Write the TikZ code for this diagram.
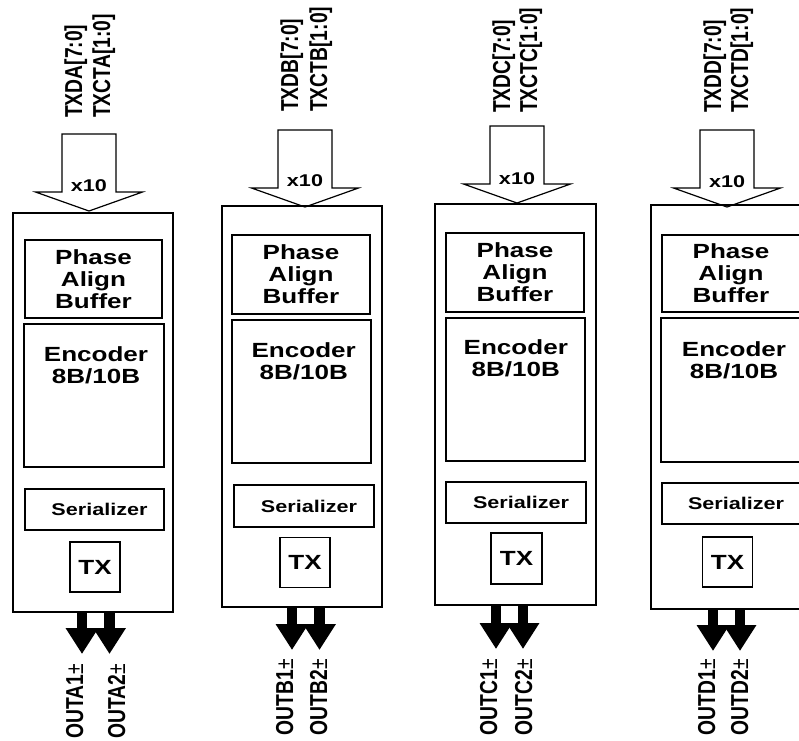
\documentclass[tikz,border=0pt]{standalone}
\usepackage{fontspec}
\setmainfont{Liberation Sans}
\newfontfamily\widesf[FakeStretch=1.27]{Liberation Sans}
\newfontfamily\tallsf[FakeStretch=0.787]{Liberation Sans}
\usetikzlibrary{arrows.meta}

\begin{document}
\begin{tikzpicture}[x=1pt,y=-1pt,line join=miter,
  chan/.style={draw,line width=2.6pt,minimum width=160pt,inner sep=0pt},
  unit/.style={draw,line width=2pt,inner sep=0pt,align=center,font=\widesf\bfseries\fontsize{20.5}{22}\selectfont},
  enctxt/.style={inner sep=0pt,anchor=north,align=center,font=\widesf\bfseries\fontsize{20.5}{22}\selectfont},
  sertxt/.style={font=\widesf\bfseries\fontsize{17}{19}\selectfont},
  txbox/.style={draw,line width=1.3pt,inner sep=0pt,minimum size=50pt,font=\widesf\bfseries\fontsize{20.5}{22}\selectfont},
  busin/.style={draw,line width=1.2pt},
  xten/.style={inner sep=0pt,anchor=base,font=\widesf\bfseries\fontsize{17}{19}\selectfont},
  sig/.style={inner sep=0pt,rotate=90,anchor=base west,font=\tallsf\bfseries\fontsize{24.5}{26}\selectfont},
  osig/.style={inner sep=0pt,rotate=90,anchor=base east,font=\tallsf\bfseries\fontsize{24.5}{26}\selectfont},
  outarr/.style={line width=10.5pt,-{Triangle[width=31pt,length=26pt]}}]
\clip (0,0) rectangle (799,740);

% channel A
\coordinate (tA) at (89,211);
\draw[busin] (tA) -- ++(53.5,-19) -- ++(-26.5,0) -- ++(0,-58) -- ++(-54,0) -- ++(0,58) -- ++(-26.5,0) -- cycle;
\node[xten] (xA) at (89,191) {x10};
\node[sig] (dA) at (82,118) {TXDA[7:0]};
\node[sig] (cA) at (110,118) {TXCTA[1:0]};
\node[chan,minimum height=399pt] (chA) at (93,412.5) {};
\node[unit,minimum width=137pt,minimum height=78pt] (pabA) at (93.5,279) {Phase\\Align\\Buffer};
\node[unit,minimum width=140pt,minimum height=143pt] (encA) at (94,395.5) {};
\node[enctxt] (encAt) at (96,346) {Encoder\\8B/10B};
\node[unit,sertxt,minimum width=139pt,minimum height=41pt] (serA) at (94.5,509.5) {\hspace*{10pt}Serializer};
\node[txbox] (txA) at (95,567) {TX};
\coordinate (oA1) at (82,654);
\coordinate (oA2) at (109.5,654);
\draw[outarr] (chA.south -| oA1) -- (oA1);
\draw[outarr] (chA.south -| oA2) -- (oA2);
\node[osig] (qA1) at (83,664) {OUTA1{\mdseries ±}};
\node[osig] (qA2) at (125,664) {OUTA2{\mdseries ±}};

% channel B
\coordinate (tB) at (305,207);
\draw[busin] (tB) -- ++(53.5,-19) -- ++(-26.5,0) -- ++(0,-58) -- ++(-54,0) -- ++(0,58) -- ++(-26.5,0) -- cycle;
\node[xten] (xB) at (305,186) {x10};
\node[sig] (dB) at (298,112) {TXDB[7:0]};
\node[sig] (cB) at (327,112) {TXCTB[1:0]};
\node[chan,minimum height=401pt] (chB) at (302,406.5) {};
\node[unit,minimum width=138pt,minimum height=79pt] (pabB) at (301,274.5) {Phase\\Align\\Buffer};
\node[unit,minimum width=139pt,minimum height=143pt] (encB) at (301.5,391.5) {};
\node[enctxt] (encBt) at (303.7,342) {Encoder\\8B/10B};
\node[unit,sertxt,minimum width=140pt,minimum height=42pt] (serB) at (304,506) {\hspace*{10pt}Serializer};
\node[txbox] (txB) at (305,562.5) {TX};
\coordinate (oB1) at (292,650);
\coordinate (oB2) at (319.5,650);
\draw[outarr] (chB.south -| oB1) -- (oB1);
\draw[outarr] (chB.south -| oB2) -- (oB2);
\node[osig] (qB1) at (293,659) {OUTB1{\mdseries ±}};
\node[osig] (qB2) at (327,659) {OUTB2{\mdseries ±}};

% channel C
\coordinate (tC) at (517,203);
\draw[busin] (tC) -- ++(53.5,-19) -- ++(-26.5,0) -- ++(0,-58) -- ++(-54,0) -- ++(0,58) -- ++(-26.5,0) -- cycle;
\node[xten] (xC) at (517,184) {x10};
\node[sig] (dC) at (510,113) {TXDC[7:0]};
\node[sig] (cC) at (537,113) {TXCTC[1:0]};
\node[chan,minimum width=161pt,minimum height=401pt] (chC) at (515.5,404.5) {};
\node[unit,minimum width=138pt,minimum height=79pt] (pabC) at (515,272.5) {Phase\\Align\\Buffer};
\node[unit,minimum width=139pt,minimum height=143pt] (encC) at (515.5,389.5) {};
\node[enctxt] (encCt) at (515.8,339) {Encoder\\8B/10B};
\node[unit,sertxt,minimum width=140pt,minimum height=41pt] (serC) at (516,502.5) {\hspace*{10pt}Serializer};
\node[txbox,minimum size=51pt] (txC) at (516.5,558.5) {TX};
\coordinate (oC1) at (496,649);
\coordinate (oC2) at (523,649);
\draw[outarr] (chC.south -| oC1) -- (oC1);
\draw[outarr] (chC.south -| oC2) -- (oC2);
\node[osig] (qC1) at (497,659) {OUTC1{\mdseries ±}};
\node[osig] (qC2) at (532,659) {OUTC2{\mdseries ±}};

% channel D
\coordinate (tD) at (727,207);
\draw[busin] (tD) -- ++(53.5,-19) -- ++(-26.5,0) -- ++(0,-58) -- ++(-54,0) -- ++(0,58) -- ++(-26.5,0) -- cycle;
\node[xten] (xD) at (727,187) {x10};
\node[sig] (dD) at (721,113) {TXDD[7:0]};
\node[sig] (cD) at (748,113) {TXCTD[1:0]};
\node[chan,minimum height=404pt] (chD) at (731,407) {};
\node[unit,minimum width=138pt,minimum height=77pt] (pabD) at (731,273.5) {Phase\\Align\\Buffer};
\node[unit,minimum width=139pt,minimum height=144pt] (encD) at (730.5,390) {};
\node[enctxt] (encDt) at (734,341) {Encoder\\8B/10B};
\node[unit,sertxt,minimum width=138pt,minimum height=41pt] (serD) at (731,503.5) {\hspace*{10pt}Serializer};
\node[txbox] (txD) at (727.5,562) {TX};
\coordinate (oD1) at (713,651);
\coordinate (oD2) at (740,651);
\draw[outarr] (chD.south -| oD1) -- (oD1);
\draw[outarr] (chD.south -| oD2) -- (oD2);
\node[osig] (qD1) at (715,659) {OUTD1{\mdseries ±}};
\node[osig] (qD2) at (748,659) {OUTD2{\mdseries ±}};
\end{tikzpicture}
\end{document}
